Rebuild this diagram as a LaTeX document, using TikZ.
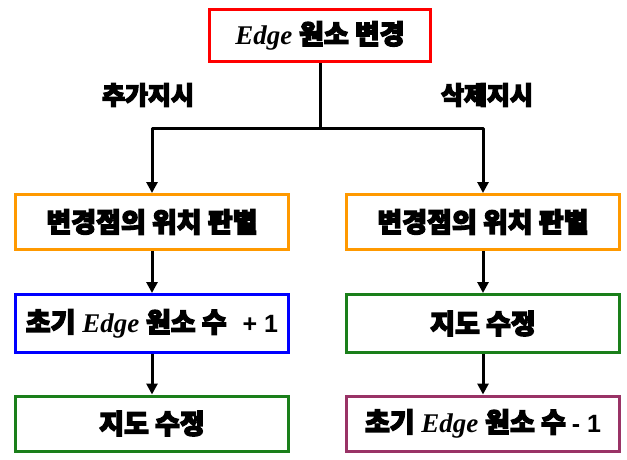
\documentclass[tikz,border=0pt]{standalone}
\usepackage{fontspec}
\usetikzlibrary{arrows.meta}
\newfontfamily\kr[BoldFeatures={FakeBold=5}]{Noto Sans CJK KR}
\newfontfamily\tms{Liberation Serif}
\newfontfamily\ars{Liberation Sans}
\definecolor{cred}{HTML}{FF0000}
\definecolor{corange}{HTML}{FF9900}
\definecolor{cblue}{HTML}{0000FF}
\definecolor{cgreen}{HTML}{1A7F1A}
\definecolor{cpurple}{HTML}{993366}
\newcommand{\K}[1]{{\kr\bfseries #1}}
\newcommand{\E}{{\tms\bfseries\itshape Edge}}
\newcommand{\A}[1]{{\ars\bfseries\fontsize{25}{30}\selectfont #1}}
\begin{document}
\begin{tikzpicture}[x=1pt,y=-1pt,
  box/.style={draw,line width=3pt,fill=white,inner sep=0pt,minimum width=273pt,minimum height=55pt,font=\tms\fontsize{27}{30}\selectfont},
  lbl/.style={font=\kr\bfseries\fontsize{25}{28}\selectfont},
  conn/.style={line width=3pt,line join=round},
  arr/.style={conn,-{Triangle[length=11pt,width=11pt]}}]
\useasboundingbox (0,0) rectangle (627,459);
\node[box,draw=cred,minimum width=221pt,minimum height=52pt] (top) at (320,35.5) {\E{} \K{원소 변경}};
\node[lbl] (ll) at (148,95) {추가지시};
\node[lbl] (rl) at (487,95) {삭제지시};
\node[box,draw=corange] (o1) at (152,222) {\K{변경점의 위치 판별}};
\node[box,draw=corange] (o2) at (483,222) {\K{변경점의 위치 판별}};
\node[box,draw=cblue,minimum height=58pt] (b1) at (152,323.5) {\K{초기} \E{} \K{원소 수}\hspace{16pt}\A{+ 1}};
\node[box,draw=cgreen,minimum height=58pt] (g2) at (483,323.5) {\K{지도 수정}};
\node[box,draw=cgreen] (g1) at (152,423.5) {\K{지도 수정}};
\node[box,draw=cpurple] (p2) at (483,423.5) {\K{초기} \E{} \K{원소 수}\hspace{6pt}\A{- 1}};
\coordinate (j) at (320,128);
\draw[conn] (top.south) -- (j);
\draw[arr] (j) -| (o1.north);
\draw[arr] (j) -| (o2.north);
\draw[arr] (o1) -- (b1);
\draw[arr] (b1) -- (g1);
\draw[arr] (o2) -- (g2);
\draw[arr] (g2) -- (p2);
\end{tikzpicture}
\end{document}
